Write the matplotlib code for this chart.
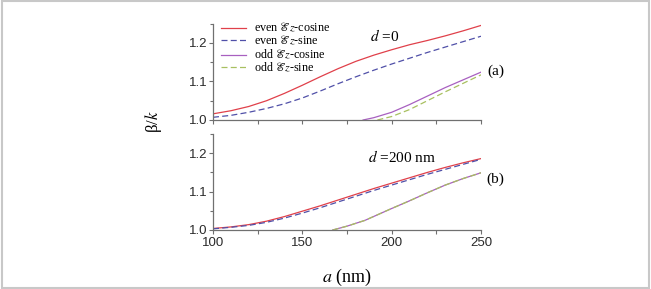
import numpy as np
import matplotlib
matplotlib.use('Agg')
import matplotlib.pyplot as plt
from matplotlib.patches import Rectangle

plt.rcParams['font.family'] = ['Liberation Sans', 'DejaVu Sans']
plt.rcParams['mathtext.fontset'] = 'stix'

# d = 0 (panel a)
a_even = [100, 110, 120, 130, 140, 150, 160, 170, 180, 190, 200, 210, 220, 230, 240, 250]
even_cos_a = [1.016, 1.024, 1.035, 1.050, 1.069, 1.090, 1.112, 1.133, 1.152, 1.168,
              1.182, 1.195, 1.206, 1.218, 1.231, 1.245]
even_sin_a = [1.007, 1.012, 1.020, 1.030, 1.042, 1.057, 1.075, 1.094, 1.112, 1.129,
              1.145, 1.160, 1.175, 1.189, 1.203, 1.217]
a_odd_cos_a = [184, 190, 200, 210, 220, 230, 240, 250]
odd_cos_a = [1.0, 1.006, 1.020, 1.040, 1.062, 1.084, 1.104, 1.124]
a_odd_sin_a = [192, 200, 210, 220, 230, 240, 250]
odd_sin_a = [1.0, 1.009, 1.027, 1.050, 1.073, 1.095, 1.117]

# d = 200 nm (panel b)
even_cos_b = [1.004, 1.008, 1.014, 1.023, 1.035, 1.049, 1.063, 1.078, 1.093, 1.108,
              1.122, 1.136, 1.150, 1.163, 1.175, 1.186]
even_sin_b = [1.003, 1.007, 1.012, 1.020, 1.031, 1.044, 1.058, 1.073, 1.088, 1.103,
              1.117, 1.131, 1.145, 1.158, 1.171, 1.184]
a_odd_b = [167, 175, 185, 200, 210, 220, 230, 240, 250]
odd_cos_b = [1.0, 1.010, 1.025, 1.056, 1.076, 1.097, 1.117, 1.134, 1.149]
odd_sin_b = [1.0, 1.010, 1.025, 1.056, 1.076, 1.097, 1.117, 1.134, 1.149]

labels = [r'even $\mathscr{E}z$-cosine', r'even $\mathscr{E}z$-sine',
          r'odd $\mathscr{E}z$-cosine', r'odd $\mathscr{E}z$-sine']
c_red, c_blue, c_purple, c_green = '#e0404a', '#5050a8', '#a860c0', '#a8c060'
dash = (4.8, 2.6)
serif = 'Liberation Serif'

fig = plt.figure(figsize=(6.51, 2.89), dpi=100)
ax1 = fig.add_axes([213/651, 1-120/289, 268/651, 96.5/289])
ax2 = fig.add_axes([213/651, 1-230/289, 268/651, 96/289])

l1, = ax1.plot(a_even, even_cos_a, color=c_red, lw=0.9)
l2, = ax1.plot(a_even, even_sin_a, color=c_blue, lw=0.9, dashes=dash)
l3, = ax1.plot(a_odd_cos_a, odd_cos_a, color=c_purple, lw=0.9)
l4, = ax1.plot(a_odd_sin_a, odd_sin_a, color=c_green, lw=0.9, dashes=dash)

ax2.plot(a_even, even_cos_b, color=c_red, lw=0.9)
ax2.plot(a_even, even_sin_b, color=c_blue, lw=0.9, dashes=dash)
ax2.plot(a_odd_b, odd_cos_b, color=c_purple, lw=0.9)
ax2.plot(a_odd_b, odd_sin_b, color=c_green, lw=0.9, dashes=dash)

for ax in (ax1, ax2):
    ax.set_xlim(100, 250)
    ax.set_ylim(1.0, 1.25)
    ax.set_xticks([100, 150, 200, 250])
    ax.set_xticks([125, 175, 225], minor=True)
    ax.set_yticks([1.0, 1.1, 1.2])
    ax.set_yticks([1.05, 1.15, 1.25], minor=True)
    for s in ('top', 'right'):
        ax.spines[s].set_visible(False)
    for s in ('left', 'bottom'):
        ax.spines[s].set_color('#707070')
        ax.spines[s].set_linewidth(0.9)
    ax.tick_params(which='both', direction='out', color='#707070', width=0.8,
                   labelsize=9.5, labelcolor='#2a2a2a')
    ax.tick_params(axis='y', which='major', length=3, pad=1)
    ax.tick_params(axis='y', which='minor', length=2)
    ax.tick_params(axis='x', which='both', length=3, pad=2)
    ax.patch.set_visible(False)
ax1.tick_params(axis='x', labelbottom=False)

leg_kw = dict(frameon=False, prop={'family': serif, 'size': 8.7}, handlelength=2.1,
              handletextpad=0.6, labelspacing=-0.05, borderaxespad=0, borderpad=0)
leg1 = ax1.legend([l1, l2], labels[:2], loc='upper left',
                  bbox_to_anchor=(0.03, 1.02), **leg_kw)
ax1.add_artist(leg1)
ax1.legend([l3, l4], labels[2:], loc='upper left',
           bbox_to_anchor=(0.03, 0.74), **leg_kw)

ax1.text(196.3, 1.218, r'$d$ =0', family=serif, fontsize=11, ha='center', va='center')
ax2.text(205.8, 1.19, r'$d$ =200 nm', family=serif, fontsize=11, ha='center', va='center')
fig.text(496/651, 1-71/289, '(a)', family=serif, fontsize=11, ha='center', va='center')
fig.text(495/651, 1-179/289, '(b)', family=serif, fontsize=11, ha='center', va='center')

fig.text(154/651, 1-122/289, r'β/$k$', family=serif, fontsize=12, rotation=90,
         ha='center', va='center')
fig.text(347/651, 1-277/289, r'$a$ (nm)', family=serif, fontsize=13,
         ha='center', va='center')

fig.patches.append(Rectangle((0.003, 0.004), 0.994, 0.992, transform=fig.transFigure,
                             fill=False, edgecolor='#c8c8c8', lw=1.5))

fig.savefig('out.png', dpi=100)
